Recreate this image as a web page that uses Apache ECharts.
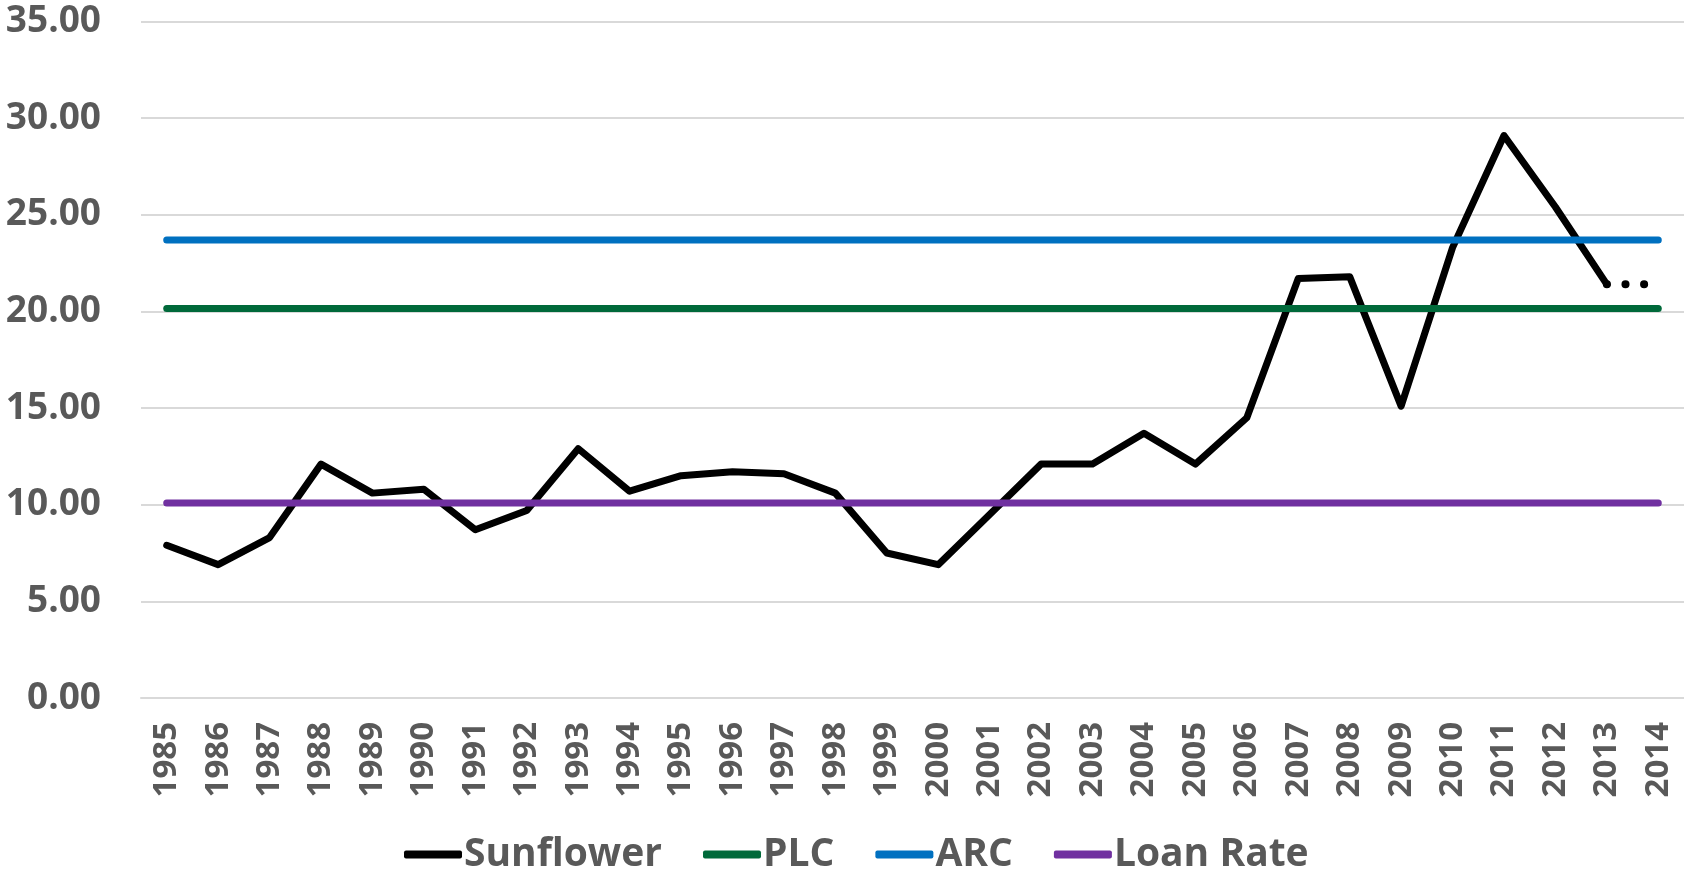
<!DOCTYPE html>
<html>
<head>
<meta charset="utf-8">
<script src="https://cdn.jsdelivr.net/npm/echarts@6/dist/echarts.min.js"></script>
<style>
  html, body { margin: 0; padding: 0; background: #fff; }
  #chart { width: 1684px; height: 877px; }
</style>
</head>
<body>
<div id="chart"></div>
<script>
const years = ['1985', '1986', '1987', '1988', '1989', '1990', '1991', '1992', '1993', '1994',
  '1995', '1996', '1997', '1998', '1999', '2000', '2001', '2002', '2003', '2004',
  '2005', '2006', '2007', '2008', '2009', '2010', '2011', '2012', '2013', '2014']

// sunflower price, $/cwt (2014 shown as dotted projection)
const sunflower = [7.9, 6.9, 8.3, 12.1, 10.6, 10.8, 8.7, 9.7, 12.9, 10.7,
  11.5, 11.7, 11.6, 10.6, 7.5, 6.9, 9.5, 12.1, 12.1, 13.7,
  12.1, 14.5, 21.7, 21.8, 15.1, 23.3, 29.1, 25.4, 21.4, null]
const projection = [null, null, null, null, null, null, null, null, null, null,
  null, null, null, null, null, null, null, null, null, null,
  null, null, null, null, null, null, null, null, 21.4, 21.4]

const plcPrice = 20.15
const arcPrice = 23.7
const loanRate = 10.09

const yTicks = { min: 0, max: 35, interval: 5 }

const font = '"Open Sans", "DejaVu Sans", sans-serif'
const grey = '#595959'

const flat = (v) => years.map(() => v)

const lineSeries = (name, data, color) => ({
  name: name,
  type: 'line',
  data: data,
  symbol: 'none',
  silent: true,
  lineStyle: { color: color, width: 7, cap: 'round', join: 'round' },
  itemStyle: { color: color }
})

const chart = echarts.init(document.getElementById('chart'))

chart.setOption({
  animation: false,
  backgroundColor: '#fff',
  grid: { left: 141, right: 0, top: 21.5, bottom: 179 },
  legend: {
    data: ['Sunflower', 'PLC', 'ARC', 'Loan Rate'],
    left: 399,
    top: 830,
    icon: 'roundRect',
    itemWidth: 58,
    itemHeight: 8,
    itemGap: 41,
    textStyle: { fontFamily: font, fontWeight: 'bold', fontSize: 39, color: grey, padding: [0, 0, 0, -3] }
  },
  xAxis: {
    type: 'category',
    data: years,
    boundaryGap: true,
    axisLine: { lineStyle: { color: '#d9d9d9', width: 2 } },
    axisTick: { show: false },
    axisLabel: {
      rotate: 90,
      margin: 24,
      interval: 0,
      fontFamily: font,
      fontWeight: 'bold',
      fontSize: 33,
      color: grey
    }
  },
  yAxis: {
    type: 'value',
    min: yTicks.min,
    max: yTicks.max,
    interval: yTicks.interval,
    axisLine: { show: false },
    axisTick: { show: false },
    splitLine: { lineStyle: { color: '#d9d9d9', width: 2 } },
    axisLabel: {
      margin: 40,
      fontFamily: font,
      fontWeight: 'bold',
      fontSize: 37,
      color: grey,
      formatter: (v) => v.toFixed(2)
    }
  },
  series: [
    lineSeries('Sunflower', sunflower, '#000000'),
    {
      name: 'Sunflower projection',
      type: 'line',
      data: projection,
      symbol: 'none',
      silent: true,
      lineStyle: { color: '#000000', width: 8, cap: 'round', type: [0.1, 18.5] }
    },
    lineSeries('PLC', flat(plcPrice), '#00693a'),
    lineSeries('ARC', flat(arcPrice), '#0070c0'),
    lineSeries('Loan Rate', flat(loanRate), '#7030a0')
  ]
})
</script>
</body>
</html>
